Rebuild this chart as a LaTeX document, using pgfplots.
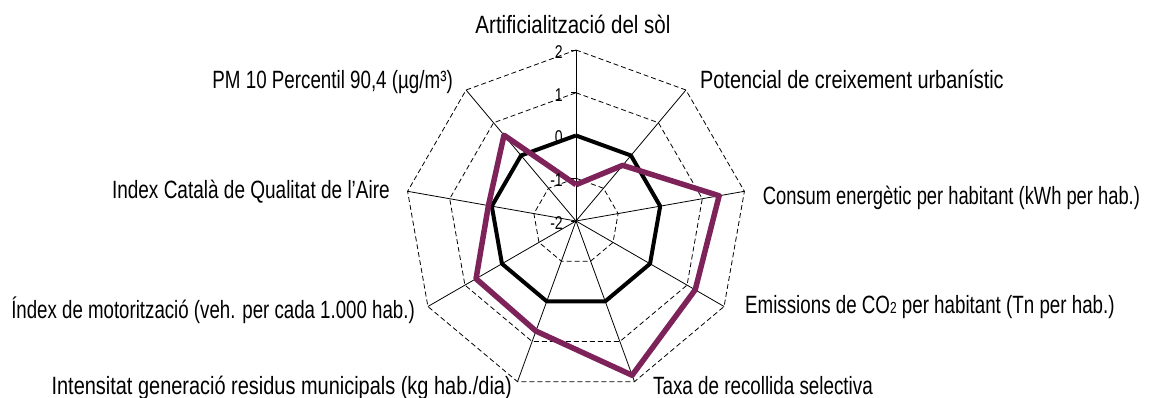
\documentclass[border=0pt]{standalone}
\usepackage{fontspec}
\setmainfont{Liberation Sans}[FakeStretch=0.76]
\usepackage{graphicx}
\usepackage{pgfplots}
\usepackage{pgfplotstable}
\usepgfplotslibrary{polar}
\pgfplotsset{compat=1.18}
\definecolor{serieA}{RGB}{0,0,0}
\definecolor{serieB}{RGB}{126,34,90}
% angle  ref  municipi   (values on the -2..2 scale)
\pgfplotstableread{
a     ref   mun
90    0     -1.15
50    0     -0.30
10    0     1.40
-30   0     1.22
-70   0     1.84
-110  0     0.74
-150  0     0.70
-190  0     0.08
-230  0     0.62
-270  0     -1.15
}\datatable
\begin{document}
\begin{tikzpicture}
\begin{polaraxis}[
  hide axis,
  width=342pt, height=342pt, scale only axis,
  xmin=0, xmax=360, ymin=0, ymax=4,
  anchor=center, at={(0,0)},
  clip=false,
]
% rings (levels -1, 0, 1, 2 -> radius 1..4)
\pgfplotsinvokeforeach{1,2,3,4}{
  \addplot[black, line width=0.8pt, dash pattern=on 5pt off 3pt, forget plot]
    coordinates {(90,#1)(50,#1)(10,#1)(-30,#1)(-70,#1)(-110,#1)(-150,#1)(-190,#1)(-230,#1)(-270,#1)};
}
% spokes
\pgfplotsinvokeforeach{90,50,10,-30,-70,-110,-150,-190,-230}{
  \addplot[black, line width=0.8pt, forget plot] coordinates {(#1,0) (#1,4)};
}
% series
\addplot[serieA, line width=4pt, line join=round, mark=none]
  table[x=a, y expr=\thisrow{ref}+2] {\datatable};
\addplot[serieB, line width=5.5pt, line join=round, mark=none]
  table[x=a, y expr=\thisrow{mun}+2] {\datatable};
% value-axis ticks on the top spoke
\pgfplotsinvokeforeach{0,1,2,3,4}{
  \draw[black, line width=0.8pt] (axis cs:90,#1) -- ++(-5pt,0);
}
\node[anchor=east, inner sep=0pt, font=\fontsize{18.5}{19}\selectfont] at ([xshift=-13pt,yshift=-2pt]axis cs:90,0) {-2};
\node[anchor=east, inner sep=0pt, font=\fontsize{18.5}{19}\selectfont] at ([xshift=-13pt,yshift=-2pt]axis cs:90,1) {-1};
\node[anchor=east, inner sep=0pt, font=\fontsize{18.5}{19}\selectfont] at ([xshift=-13pt,yshift=-2pt]axis cs:90,2) {0};
\node[anchor=east, inner sep=0pt, font=\fontsize{18.5}{19}\selectfont] at ([xshift=-13pt,yshift=-2pt]axis cs:90,3) {1};
\node[anchor=east, inner sep=0pt, font=\fontsize{18.5}{19}\selectfont] at ([xshift=-13pt,yshift=-2pt]axis cs:90,4) {2};
\coordinate (P) at (axis cs:0,0);
\end{polaraxis}
\begin{scope}[shift={(P)}, every node/.style={inner sep=0pt, font=\fontsize{25}{27}\selectfont}]
\node[anchor=base] at (-3pt,187.7pt) {\scalebox{1.08}[1]{Artificialització del sòl}};
\node[anchor=base west] at (124pt,132.7pt) {\scalebox{1.045}[1]{Potencial de creixement urbanístic}};
\node[anchor=base west] at (186.7pt,16.7pt) {\scalebox{0.965}[1]{Consum energètic per habitant (kWh per hab.)}};
\node[anchor=base west] at (169pt,-93pt) {\scalebox{0.987}[1]{Emissions de CO{\fontsize{16}{16}\selectfont 2} per habitant (Tn per hab.)}};
\node[anchor=base west] at (77pt,-174pt) {\scalebox{0.99}[1]{Taxa de recollida selectiva}};
\node[anchor=base east] at (-64pt,-174pt) {\scalebox{1.05}[1]{Intensitat generació residus municipals (kg hab./dia)}};
\node[anchor=base east] at (-161pt,-98pt) {\scalebox{0.983}[1]{Índex de motorització (veh. per cada 1.000 hab.)}};
\node[anchor=base east] at (-186pt,22.7pt) {Index Català de Qualitat de l’Aire};
\node[anchor=base east] at (-123pt,132.7pt) {\scalebox{0.988}[1]{PM 10 Percentil 90,4 (µg/m³)}};
\end{scope}
\pgfresetboundingbox
\path[use as bounding box] ([shift={(-576pt,-177pt)}]P) rectangle ([shift={(574pt,221pt)}]P);
\end{tikzpicture}
\end{document}
